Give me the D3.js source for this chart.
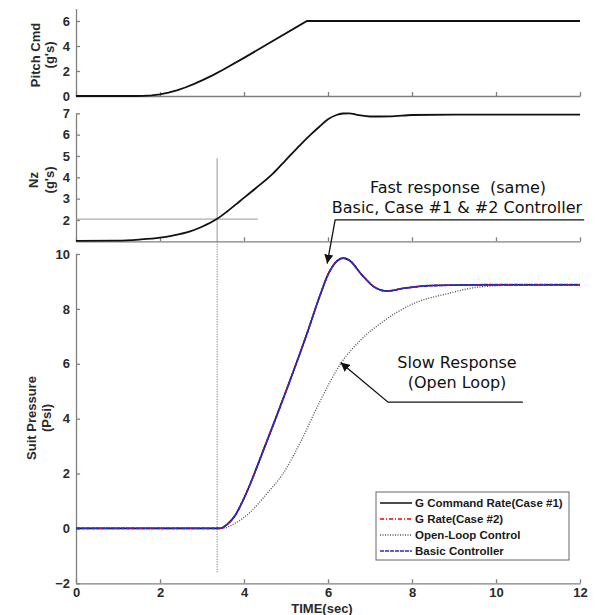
<!DOCTYPE html>
<html>
<head>
<meta charset="utf-8">
<script src="https://cdn.jsdelivr.net/npm/d3@7"></script>
<style>
  body { margin: 0; background: #fff; }
  .tick text { font-family: "Liberation Sans", Arial, sans-serif; font-weight: bold; font-size: 13px; fill: #2a2a2a; }
  .axis path, .axis line { stroke: #808080; }
  .ylab { font-family: "Liberation Sans", Arial, sans-serif; font-weight: bold; font-size: 13px; fill: #2a2a2a; }
  .note { font-family: "DejaVu Sans", sans-serif; font-size: 16px; fill: #111; }
  .leg { font-family: "Liberation Sans", Arial, sans-serif; font-weight: bold; font-size: 11.5px; fill: #1a1a1a; }
</style>
</head>
<body>
<div id="chart"></div>
<script>
// tick values
var timeTicks = [0, 2, 4, 6, 8, 10, 12];
var pitchTicks = [0, 2, 4, 6];
var nzTicks = [2, 3, 4, 5, 6, 7];
var psiTicks = [-2, 0, 2, 4, 6, 8, 10];

// Pitch command (g's)
var pitchT = [0, 1.4, 1.6, 1.8, 2.0, 2.2, 2.4, 2.6, 2.8, 3.0, 3.25, 3.5, 4.0, 5.5, 12];
var pitchV = [0, 0, 0.01, 0.05, 0.13, 0.27, 0.45, 0.68, 0.95, 1.25, 1.65, 2.1, 3.05, 6.0, 6.0];

// Nz (g's)
var nzT = [0, 1, 1.5, 2, 2.3, 2.7, 3, 3.35, 3.6, 3.9, 4.3, 4.7, 5.0, 5.33, 5.6, 5.8, 6.0, 6.2, 6.35, 6.5, 6.7, 7.0, 7.5, 8, 9, 12];
var nzV = [1.02, 1.03, 1.08, 1.17, 1.27, 1.45, 1.68, 2.04, 2.4, 2.88, 3.52, 4.2, 4.82, 5.5, 6.02, 6.38, 6.72, 6.92, 6.99, 7.0, 6.93, 6.85, 6.86, 6.92, 6.94, 6.94];

// Suit pressure (Psi) - fast response (Case #1, Case #2, Basic are the same)
var fastT = [0, 3.43, 3.6, 3.8, 4.0, 4.5, 5.0, 5.5, 5.8, 6.0, 6.2, 6.36, 6.5, 6.8, 7.1, 7.4, 7.8, 8.5, 10, 12];
var fastV = [0, 0, 0.15, 0.5, 1.1, 3.0, 5.0, 7.1, 8.45, 9.25, 9.72, 9.85, 9.78, 9.25, 8.8, 8.65, 8.75, 8.85, 8.88, 8.88];

// Suit pressure (Psi) - open loop
var openT = [0, 3.47, 3.8, 4.14, 4.54, 4.93, 5.33, 5.8, 6.3, 6.8, 7.24, 8.03, 8.83, 9.62, 10.5, 12];
var openV = [0, 0, 0.2, 0.58, 1.26, 2.0, 3.1, 4.6, 6.0, 6.9, 7.46, 8.19, 8.55, 8.8, 8.87, 8.88];

var legendNames = ["G Command Rate(Case #1)", "G Rate(Case #2)", "Open-Loop Control", "Basic Controller"];

var W = 599, H = 615;
var svg = d3.select("#chart").append("svg").attr("width", W).attr("height", H);

var x = d3.scaleLinear().domain([0, 12]).range([76, 580]);
var yPitch = d3.scaleLinear().domain([0, 7]).range([96, 8.5]);
var yNz = d3.scaleLinear().domain([1, 7]).range([241.3, 113.3]);
var yPsi = d3.scaleLinear().domain([-2, 10]).range([583.3, 254]);

function zip(t, v) {
  return t.map(function (d, i) { return [d, v[i]]; });
}

function drawAxes(y, yTicks, showX) {
  var ax = d3.axisBottom(x).tickValues(timeTicks).tickSizeInner(-4).tickSizeOuter(0).tickPadding(4)
    .tickFormat(d3.format("d"));
  if (!showX) ax.tickFormat("");
  svg.append("g").attr("class", "axis")
    .attr("transform", "translate(0," + y.range()[0] + ")")
    .call(ax)
    .selectAll("path, line").attr("stroke-width", 1.3);
  svg.append("g").attr("class", "axis")
    .attr("transform", "translate(" + x(0) + ",0)")
    .call(d3.axisLeft(y).tickValues(yTicks).tickSizeInner(-4).tickSizeOuter(0).tickPadding(6)
      .tickFormat(d3.format("d")))
    .selectAll("path, line").attr("stroke-width", 1.3);
}

drawAxes(yPitch, pitchTicks, false);
drawAxes(yNz, nzTicks, false);
drawAxes(yPsi, psiTicks, true);

// reference lines at Nz = 2
var tCross = 3.36;
svg.append("line")
  .attr("x1", x(0)).attr("x2", x(4.33))
  .attr("y1", yNz(2.04)).attr("y2", yNz(2.04))
  .attr("stroke", "#999").attr("stroke-width", 1);
svg.append("line")
  .attr("x1", x(tCross)).attr("x2", x(tCross))
  .attr("y1", yNz(4.9)).attr("y2", yNz(1))
  .attr("stroke", "#999").attr("stroke-width", 1);
svg.append("line")
  .attr("x1", x(tCross)).attr("x2", x(tCross))
  .attr("y1", yNz(1)).attr("y2", yPsi(-1.6))
  .attr("stroke", "#666").attr("stroke-width", 1).attr("stroke-dasharray", "1,1.5");

var smooth = d3.curveMonotoneX;

function drawLine(data, y, color, width, dash, curve) {
  var line = d3.line()
    .x(function (d) { return x(d[0]); })
    .y(function (d) { return y(d[1]); })
    .curve(curve || smooth);
  var p = svg.append("path")
    .datum(data)
    .attr("d", line)
    .attr("fill", "none")
    .attr("stroke", color)
    .attr("stroke-width", width);
  if (dash) p.attr("stroke-dasharray", dash);
  return p;
}

drawLine(zip(pitchT, pitchV), yPitch, "#111", 1.8, null, d3.curveLinear);
drawLine(zip(nzT, nzV), yNz, "#111", 1.8);

// bottom panel lines
drawLine(zip(openT, openV), yPsi, "#555", 1.4, "1,1.5");
drawLine(zip(fastT, fastV), yPsi, "#111", 1.6);
drawLine(zip(fastT, fastV), yPsi, "#e00", 1.4, "4,2,1,2");
drawLine(zip(fastT, fastV), yPsi, "#2a2ad0", 1.8, "4,1");

// y axis labels
function yLabel(lines, cx, cy) {
  lines.forEach(function (s, i) {
    svg.append("text").attr("class", "ylab")
      .attr("transform", "translate(" + cx[i] + "," + cy + ") rotate(-90)")
      .attr("text-anchor", "middle")
      .attr("dominant-baseline", "middle")
      .text(s);
  });
}
yLabel(["Pitch Cmd", "(g's)"], [37, 51], 55);
yLabel(["Nz", "(g's)"], [35, 51], 180);
yLabel(["Suit Pressure", "(Psi)"], [33, 48], 418);

svg.append("text").attr("class", "ylab")
  .attr("x", 322).attr("y", 613)
  .attr("text-anchor", "middle")
  .text("TIME(sec)");

// annotations
var defs = svg.append("defs");
defs.append("marker")
  .attr("id", "arrow")
  .attr("viewBox", "0 0 10 10")
  .attr("refX", 10).attr("refY", 5)
  .attr("markerWidth", 9).attr("markerHeight", 9)
  .attr("markerUnits", "userSpaceOnUse")
  .attr("orient", "auto")
  .append("path").attr("d", "M0,0 L10,5 L0,10 Z").attr("fill", "#111");

svg.append("text").attr("class", "note")
  .attr("x", 458).attr("y", 193).attr("text-anchor", "middle")
  .attr("xml:space", "preserve")
  .text("Fast response  (same)");
svg.append("text").attr("class", "note")
  .attr("x", 457).attr("y", 213).attr("text-anchor", "middle")
  .text("Basic, Case #1 & #2 Controller");

svg.append("path")
  .attr("d", "M" + x(12.1) + "," + yNz(2.0) + " L" + x(6.17) + "," + yNz(2.0) +
    " L" + x(5.98) + "," + yPsi(9.65))
  .attr("fill", "none").attr("stroke", "#111").attr("stroke-width", 1.3)
  .attr("marker-end", "url(#arrow)");

svg.append("text").attr("class", "note")
  .attr("x", 457).attr("y", 368).attr("text-anchor", "middle")
  .text("Slow Response");
svg.append("text").attr("class", "note")
  .attr("x", 457).attr("y", 388).attr("text-anchor", "middle")
  .text("(Open Loop)");

svg.append("path")
  .attr("d", "M" + x(10.64) + "," + yPsi(4.6) + " L" + x(7.43) + "," + yPsi(4.6) +
    " L" + x(6.3) + "," + yPsi(6.05))
  .attr("fill", "none").attr("stroke", "#111").attr("stroke-width", 1.3)
  .attr("marker-end", "url(#arrow)");

// legend
var leg = svg.append("g").attr("transform", "translate(376,492)");
leg.append("rect").attr("width", 193).attr("height", 68)
  .attr("fill", "#fff").attr("stroke", "#666").attr("stroke-width", 1);
var legStyles = [
  { color: "#111", dash: null },
  { color: "#e00", dash: "4,2,1,2" },
  { color: "#555", dash: "1,1.5" },
  { color: "#2a2ad0", dash: "4,1" }
];
legendNames.forEach(function (name, i) {
  var yy = 11 + i * 16;
  var l = leg.append("line").attr("x1", 4).attr("x2", 36).attr("y1", yy).attr("y2", yy)
    .attr("stroke", legStyles[i].color).attr("stroke-width", 1.5);
  if (legStyles[i].dash) l.attr("stroke-dasharray", legStyles[i].dash);
  leg.append("text").attr("class", "leg").attr("x", 39).attr("y", yy + 4).text(name);
});
</script>
</body>
</html>
